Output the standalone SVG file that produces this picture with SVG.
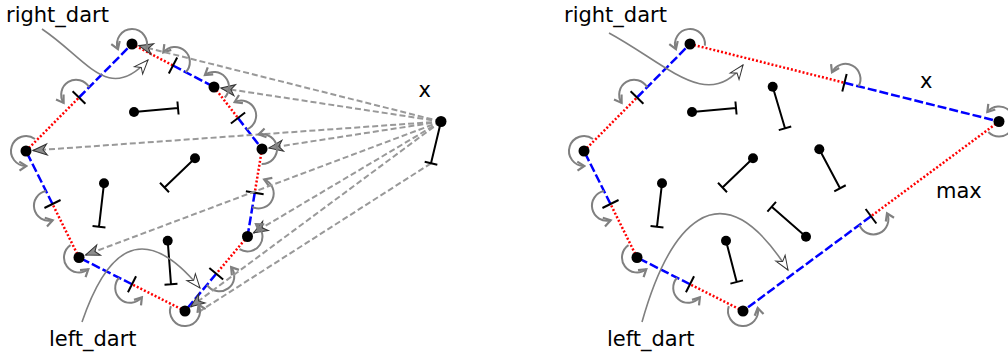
<svg xmlns="http://www.w3.org/2000/svg" width="1008" height="358" viewBox="0 0 1008 358">
<defs>
<style>
.red{stroke:#ff0000;stroke-width:2.5;stroke-dasharray:2 2;fill:none}
.blue{stroke:#0000ff;stroke-width:2.5;stroke-dasharray:9 3;fill:none}
.tick{stroke:#000;stroke-width:2}
.arc{stroke:#808080;stroke-width:2;fill:none;marker-end:url(#chev)}
.ray{stroke:#999;stroke-width:2;stroke-dasharray:6 3;fill:none;marker-end:url(#stealth)}
.ray2{stroke:#999;stroke-width:2;stroke-dasharray:6 3;fill:none}
.dart{stroke:#808080;stroke-width:1.6;fill:none;marker-end:url(#openhead)}
.pin{stroke:#000;stroke-width:2;fill:none}
.dot{fill:#000}
.lbl{font-family:"DejaVu Sans","Liberation Sans",sans-serif;font-size:21px;fill:#000}
</style>
<marker id="chev" markerUnits="userSpaceOnUse" viewBox="-9 -6 11 12" markerWidth="11" markerHeight="12" refX="0" refY="0" orient="auto">
<path d="M-7,-4.5 L0,0 L-7,4.5" fill="none" stroke="#808080" stroke-width="2.2"/>
</marker>
<marker id="stealth" markerUnits="userSpaceOnUse" viewBox="-16 -8 18 16" markerWidth="18" markerHeight="16" refX="0" refY="0" orient="auto">
<path d="M0,0 L-14,-5.5 L-10,0 L-14,5.5 Z" fill="#8c8c8c" stroke="#333" stroke-width="1"/>
</marker>
<marker id="openhead" markerUnits="userSpaceOnUse" viewBox="-16 -8 18 16" markerWidth="18" markerHeight="16" refX="0" refY="0" orient="auto">
<path d="M0,0 L-14,-5.5 L-10,0 L-14,5.5 Z" fill="#fff" stroke="#333" stroke-width="1"/>
</marker>
</defs>
<rect width="1008" height="358" fill="#fff"/>

<!-- LEFT FIGURE -->
<g id="left-edges">
<path class="red" d="M132,44 L173,65.5"/><path class="blue" d="M173,65.5 L214,87"/>
<path class="red" d="M214,87 L238,118"/><path class="blue" d="M238,118 L262,149"/>
<path class="red" d="M262,149 L254.75,192.75"/><path class="blue" d="M254.75,192.75 L247.5,236.5"/>
<path class="red" d="M247.5,236.5 L216.25,273.75"/><path class="blue" d="M216.25,273.75 L185,311"/>
<path class="red" d="M185,311 L132,284.25"/><path class="blue" d="M132,284.25 L79,257.5"/>
<path class="red" d="M79,257.5 L52.5,204"/><path class="blue" d="M52.5,204 L26,151"/>
<path class="red" d="M26,151 L79,97.5"/><path class="blue" d="M79,97.5 L132,44"/>
<line class="tick" x1="0" y1="-9" x2="0" y2="9" transform="translate(173,65.5) rotate(27.67)"/>
<line class="tick" x1="0" y1="-9" x2="0" y2="9" transform="translate(238,118) rotate(52.25)"/>
<line class="tick" x1="0" y1="-9" x2="0" y2="9" transform="translate(254.75,192.75) rotate(99.41)"/>
<line class="tick" x1="0" y1="-9" x2="0" y2="9" transform="translate(216.25,273.75) rotate(130)"/>
<line class="tick" x1="0" y1="-9" x2="0" y2="9" transform="translate(132,284.25) rotate(206.78)"/>
<line class="tick" x1="0" y1="-9" x2="0" y2="9" transform="translate(52.5,204) rotate(243.54)"/>
<line class="tick" x1="0" y1="-9" x2="0" y2="9" transform="translate(79,97.5) rotate(-45.27)"/>
<path class="arc" d="M14.46,0 A15,15 0 1 0 -14.67,-7.12" transform="translate(173,65.5) rotate(27.67)"/>
<path class="arc" d="M14.46,0 A15,15 0 1 0 -14.67,-7.12" transform="translate(238,118) rotate(52.25)"/>
<path class="arc" d="M14.46,0 A15,15 0 1 0 -14.67,-7.12" transform="translate(254.75,192.75) rotate(99.41)"/>
<path class="arc" d="M14.46,0 A15,15 0 1 0 -14.67,-7.12" transform="translate(216.25,273.75) rotate(130)"/>
<path class="arc" d="M14.46,0 A15,15 0 1 0 -14.67,-7.12" transform="translate(132,284.25) rotate(206.78)"/>
<path class="arc" d="M14.46,0 A15,15 0 1 0 -14.67,-7.12" transform="translate(52.5,204) rotate(243.54)"/>
<path class="arc" d="M14.46,0 A15,15 0 1 0 -14.67,-7.12" transform="translate(79,97.5) rotate(-45.27)"/>
</g>
<g id="left-rays">
<path class="ray" d="M441,121.5 L138.79,45.70"/>
<path class="ray" d="M441,121.5 L220.92,88.05"/>
<path class="ray" d="M441,121.5 L268.92,147.94"/>
<path class="ray" d="M441,121.5 L253.52,232.92"/>
<path class="ray" d="M441,121.5 L190.63,306.83"/>
<path class="ray" d="M441,121.5 L85.55,255.04"/>
<path class="ray" d="M441,121.5 L32.98,150.5"/>
<path class="ray2" d="M431,163.3 L197,313"/>
</g>
<g id="left-vA"><path class="arc" d="M146.12,49.05 A15,15 0 1 0 117.93,49.20"/><circle class="dot" cx="132" cy="44" r="5.5"/></g>
<g id="left-vB"><path class="arc" d="M224.74,97.47 A15,15 0 0 0 204.90,75.08"/><circle class="dot" cx="214" cy="87" r="5.5"/></g>
<g id="left-vC"><path class="arc" d="M261.63,164.0 A15,15 0 1 0 258.69,134.37"/><circle class="dot" cx="262" cy="149" r="5.5"/></g>
<g id="left-vD"><path class="arc" d="M239.55,249.22 A15,15 0 0 0 255.98,224.13"/><circle class="dot" cx="247.5" cy="236.5" r="5.5"/></g>
<g id="left-vE"><path class="arc" d="M170.80,306.17 A15,15 0 1 0 198.59,304.66"/><circle class="dot" cx="185" cy="311" r="5.5"/></g>
<g id="left-vF"><path class="arc" d="M70.51,245.13 A15,15 0 1 0 88.28,269.28"/><circle class="dot" cx="79" cy="257.5" r="5.5"/></g>
<g id="left-vG"><path class="arc" d="M34.97,138.98 A15,15 0 1 0 26.38,166.0"/><circle class="dot" cx="26" cy="151" r="5.5"/></g>
<g id="left-pin1"><path class="pin" d="M134,112 L178,108 M178.59,114.47 L177.41,101.53"/><circle class="dot" cx="134" cy="112" r="5"/></g>
<g id="left-pin2"><path class="pin" d="M195,158.3 L164.5,187.5 M160,182.8 L169,192.2"/><circle class="dot" cx="195" cy="158.3" r="5"/></g>
<g id="left-pin3"><path class="pin" d="M104,183.3 L99,226.7 M92.54,225.96 L105.46,227.44"/><circle class="dot" cx="104" cy="183.3" r="5"/></g>
<g id="left-pin4"><path class="pin" d="M167.7,240.7 L171,284.3 M164.52,284.79 L177.48,283.81"/><circle class="dot" cx="167.7" cy="240.7" r="5"/></g>
<g id="left-x"><path class="pin" d="M441,121.5 L431,163.3 M424.68,161.79 L437.32,164.81"/><circle class="dot" cx="441" cy="121.5" r="5.5"/><text class="lbl" x="418.5" y="97">x</text></g>
<g id="left-right-dart"><text class="lbl" x="6" y="22">right_dart</text><path class="dart" d="M42,29 C88,60 108,104 148,60"/></g>
<g id="left-left-dart"><text class="lbl" x="49" y="346">left_dart</text><path class="dart" d="M82,322 C105,255 140,215 200,288"/></g>

<!-- RIGHT FIGURE -->
<g transform="translate(558,0)">
<g id="right-edges">
<path class="red" d="M132,44 L286.5,82.75"/><path class="blue" d="M286.5,82.75 L441,121.5"/>
<path class="red" d="M441,121.5 L313,216.25"/><path class="blue" d="M313,216.25 L185,311"/>
<path class="red" d="M185,311 L132,284.25"/><path class="blue" d="M132,284.25 L79,257.5"/>
<path class="red" d="M79,257.5 L52.5,204"/><path class="blue" d="M52.5,204 L26,151"/>
<path class="red" d="M26,151 L79,97.5"/><path class="blue" d="M79,97.5 L132,44"/>
<line class="tick" x1="0" y1="-9" x2="0" y2="9" transform="translate(286.5,82.75) rotate(14.08)"/>
<line class="tick" x1="0" y1="-9" x2="0" y2="9" transform="translate(313,216.25) rotate(143.5)"/>
<line class="tick" x1="0" y1="-9" x2="0" y2="9" transform="translate(132,284.25) rotate(206.78)"/>
<line class="tick" x1="0" y1="-9" x2="0" y2="9" transform="translate(52.5,204) rotate(243.54)"/>
<line class="tick" x1="0" y1="-9" x2="0" y2="9" transform="translate(79,97.5) rotate(-45.27)"/>
<path class="arc" d="M14.46,0 A15,15 0 1 0 -14.67,-7.12" transform="translate(286.5,82.75) rotate(14.08)"/>
<path class="arc" d="M14.46,0 A15,15 0 1 0 -14.67,-7.12" transform="translate(313,216.25) rotate(143.5)"/>
<path class="arc" d="M14.46,0 A15,15 0 1 0 -14.67,-7.12" transform="translate(132,284.25) rotate(206.78)"/>
<path class="arc" d="M14.46,0 A15,15 0 1 0 -14.67,-7.12" transform="translate(52.5,204) rotate(243.54)"/>
<path class="arc" d="M14.46,0 A15,15 0 1 0 -14.67,-7.12" transform="translate(79,97.5) rotate(-45.27)"/>
</g>
<g id="right-vA"><path class="arc" d="M146.92,45.59 A15,15 0 1 0 117.93,49.20"/><circle class="dot" cx="132" cy="44" r="5.5"/></g>
<g id="right-vX"><path class="arc" d="M430.30,132.01 A15,15 0 1 0 429.36,112.04"/><circle class="dot" cx="441" cy="121.5" r="5.5"/></g>
<g id="right-vE"><path class="arc" d="M170.80,306.17 A15,15 0 1 0 199.70,308.01"/><circle class="dot" cx="185" cy="311" r="5.5"/></g>
<g id="right-vF"><path class="arc" d="M70.51,245.13 A15,15 0 1 0 88.28,269.28"/><circle class="dot" cx="79" cy="257.5" r="5.5"/></g>
<g id="right-vG"><path class="arc" d="M34.97,138.98 A15,15 0 1 0 26.38,166.0"/><circle class="dot" cx="26" cy="151" r="5.5"/></g>
<g id="right-pin1"><path class="pin" d="M134,112 L178,108 M178.59,114.47 L177.41,101.53"/><circle class="dot" cx="134" cy="112" r="5"/></g>
<g id="right-pin2"><path class="pin" d="M195,158.3 L164.5,187.5 M160,182.8 L169,192.2"/><circle class="dot" cx="195" cy="158.3" r="5"/></g>
<g id="right-pin3"><path class="pin" d="M104,183.3 L99,226.7 M92.54,225.96 L105.46,227.44"/><circle class="dot" cx="104" cy="183.3" r="5"/></g>
<g id="right-pin4"><path class="pin" d="M168,240.7 L178.7,282 M172.41,283.63 L184.99,280.37"/><circle class="dot" cx="168" cy="240.7" r="5"/></g>
<g id="right-pinB"><path class="pin" d="M214.7,86.7 L227,128.3 M220.77,130.14 L233.23,126.46"/><circle class="dot" cx="214.7" cy="86.7" r="5"/></g>
<g id="right-pinC"><path class="pin" d="M261.3,149.3 L282,188.3 M276.26,191.35 L287.74,185.25"/><circle class="dot" cx="261.3" cy="149.3" r="5"/></g>
<g id="right-pinD"><path class="pin" d="M248,236.7 L213.7,206.7 M217.98,201.81 L209.42,211.59"/><circle class="dot" cx="248" cy="236.7" r="5"/></g>
<g id="right-x-label"><text class="lbl" x="362" y="88">x</text></g>
<g id="right-max-label"><text class="lbl" x="378" y="198">max</text></g>
<g id="right-right-dart"><text class="lbl" x="6" y="22">right_dart</text><path class="dart" d="M51,33 C110,65 150,112 185,65"/></g>
<g id="right-left-dart"><text class="lbl" x="49" y="346">left_dart</text><path class="dart" d="M84,322 C110,230 160,160 230,270"/></g>
</g>
</svg>
